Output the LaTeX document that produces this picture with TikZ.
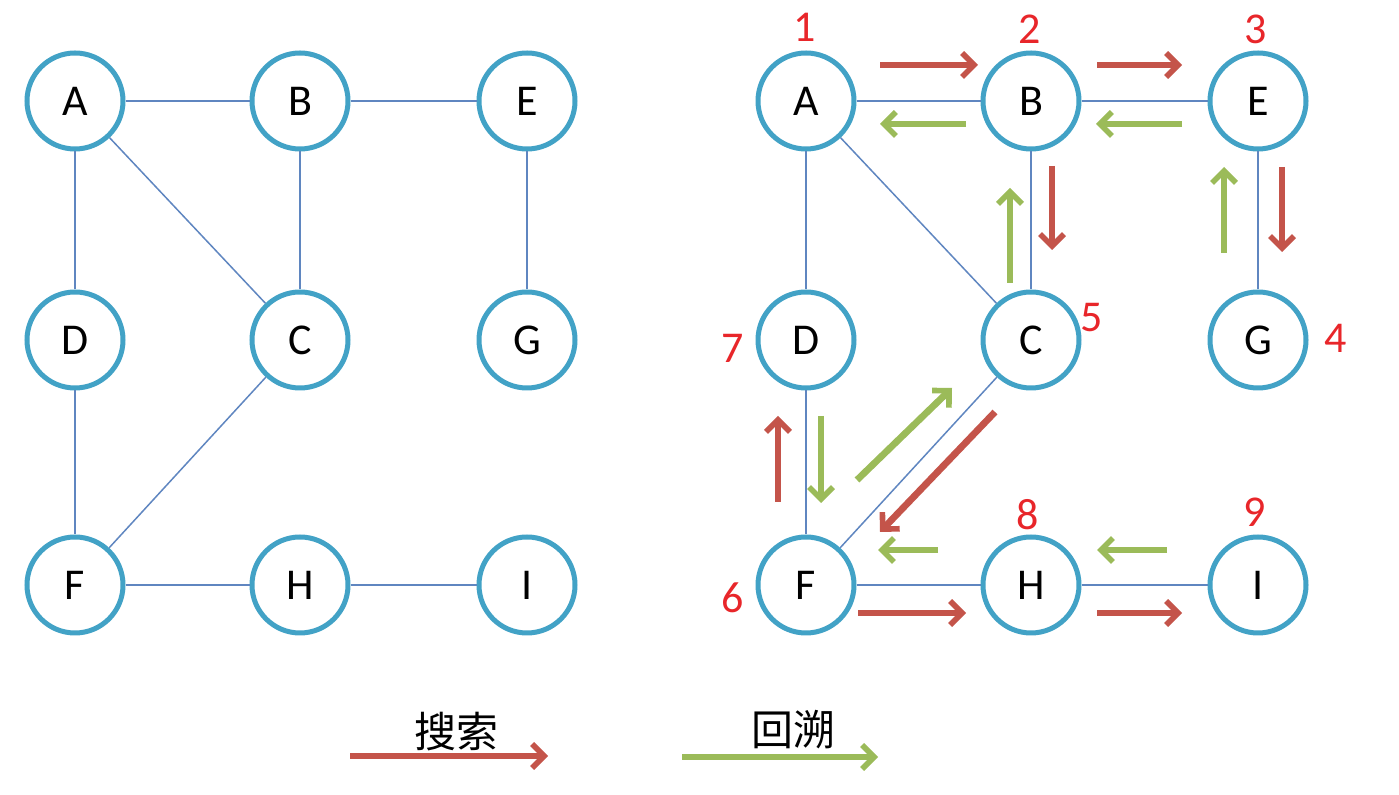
\documentclass[tikz,border=0pt]{standalone}
\usepackage{fontspec}
\setmainfont{Carlito}
\newfontfamily\cjk{Noto Sans CJK SC}
\usetikzlibrary{arrows.meta}
\definecolor{cring}{HTML}{42A2C6}
\definecolor{cedge}{HTML}{5F86C0}
\definecolor{cred}{HTML}{C4544A}
\definecolor{cgreen}{HTML}{9BBB59}
\definecolor{cnum}{HTML}{E8262A}
\tikzset{
  vtx/.style={circle,draw=cring,line width=2.5pt,minimum size=48pt,inner sep=0pt,fill=white,font=\fontsize{22}{26}\selectfont},
  edge/.style={draw=cedge,line width=0.75pt},
  num/.style={text=cnum,font=\fontsize{22}{26}\selectfont,inner sep=0pt},
  sarrow/.style={draw=cred,line width=3.4pt,-{Straight Barb[length=6pt,width=12pt,line width=2.8pt]}},
  barrow/.style={draw=cgreen,line width=3.4pt,-{Straight Barb[length=6pt,width=12pt,line width=2.8pt]}},
  legtext/.style={font=\cjk\fontsize{21}{24}\selectfont,inner sep=0pt}
}
\begin{document}
\begin{tikzpicture}[x=0.5pt,y=-0.5pt]
\useasboundingbox (0,0) rectangle (1399,795);
% left graph
\node[vtx] (lA) at (75,101) {A};
\node[vtx] (lB) at (300,101) {B};
\node[vtx] (lE) at (527,101) {E};
\node[vtx] (lD) at (75,340) {D};
\node[vtx] (lC) at (300,340) {C};
\node[vtx] (lG) at (527,340) {G};
\node[vtx] (lF) at (75,585) {F};
\node[vtx] (lH) at (300,585) {H};
\node[vtx] (lI) at (527,585) {I};
\draw[edge] (lA) -- (lB);
\draw[edge] (lB) -- (lE);
\draw[edge] (lA) -- (lD);
\draw[edge] (lA) -- (lC);
\draw[edge] (lB) -- (lC);
\draw[edge] (lE) -- (lG);
\draw[edge] (lD) -- (lF);
\draw[edge] (lC) -- (lF);
\draw[edge] (lF) -- (lH);
\draw[edge] (lH) -- (lI);
% right graph
\node[vtx] (A) at (806,101) {A};
\node[vtx] (B) at (1031,101) {B};
\node[vtx] (E) at (1258,101) {E};
\node[vtx] (D) at (806,340) {D};
\node[vtx] (C) at (1031,340) {C};
\node[vtx] (G) at (1258,340) {G};
\node[vtx] (F) at (806,585) {F};
\node[vtx] (H) at (1031,585) {H};
\node[vtx] (I) at (1258,585) {I};
\draw[edge] (A) -- (B);
\draw[edge] (B) -- (E);
\draw[edge] (A) -- (D);
\draw[edge] (A) -- (C);
\draw[edge] (B) -- (C);
\draw[edge] (E) -- (G);
\draw[edge] (D) -- (F);
\draw[edge] (C) -- (F);
\draw[edge] (F) -- (H);
\draw[edge] (H) -- (I);
% order numbers
\node[num] (n1) at (805,27) {1};
\node[num] (n2) at (1030,29) {2};
\node[num] (n3) at (1256,29) {3};
\node[num] (n4) at (1336,338) {4};
\node[num] (n5) at (1092,318) {5};
\node[num] (n6) at (733,598) {6};
\node[num] (n7) at (733,348) {7};
\node[num] (n8) at (1028,515) {8};
\node[num] (n9) at (1255,512) {9};
% traversal arrows
\coordinate (s1a) at (880,65);   \coordinate (s1b) at (978,65);
\coordinate (b1a) at (966,124);  \coordinate (b1b) at (880,124);
\coordinate (s2a) at (1097,65);  \coordinate (s2b) at (1182,65);
\coordinate (b2a) at (1182,124); \coordinate (b2b) at (1096,124);
\coordinate (s3a) at (1052,166); \coordinate (s3b) at (1052,250);
\coordinate (b3a) at (1010,283); \coordinate (b3b) at (1010,188);
\coordinate (s4a) at (1282,167); \coordinate (s4b) at (1282,252);
\coordinate (b4a) at (1224,253); \coordinate (b4b) at (1224,167);
\coordinate (s5a) at (995,412);  \coordinate (s5b) at (880,532);
\coordinate (b5a) at (857,480);  \coordinate (b5b) at (952,388);
\coordinate (s6a) at (778,502);  \coordinate (s6b) at (778,416);
\coordinate (b6a) at (821,416);  \coordinate (b6b) at (821,503);
\coordinate (s7a) at (858,613);  \coordinate (s7b) at (966,613);
\coordinate (b7a) at (938,550);  \coordinate (b7b) at (878,550);
\coordinate (s8a) at (1097,613); \coordinate (s8b) at (1182,613);
\coordinate (b8a) at (1167,550); \coordinate (b8b) at (1097,550);
\draw[sarrow] (s1a) -- (s1b);
\draw[barrow] (b1a) -- (b1b);
\draw[sarrow] (s2a) -- (s2b);
\draw[barrow] (b2a) -- (b2b);
\draw[sarrow] (s3a) -- (s3b);
\draw[barrow] (b3a) -- (b3b);
\draw[sarrow] (s4a) -- (s4b);
\draw[barrow] (b4a) -- (b4b);
\draw[sarrow] (s5a) -- (s5b);
\draw[barrow] (b5a) -- (b5b);
\draw[sarrow] (s6a) -- (s6b);
\draw[barrow] (b6a) -- (b6b);
\draw[sarrow] (s7a) -- (s7b);
\draw[barrow] (b7a) -- (b7b);
\draw[sarrow] (s8a) -- (s8b);
\draw[barrow] (b8a) -- (b8b);
% legend
\node[legtext] (t1) at (456,732) {搜索};
\node[legtext] (t2) at (793,730) {回溯};
\coordinate (l1a) at (350,756); \coordinate (l1b) at (548,756);
\coordinate (l2a) at (682,757); \coordinate (l2b) at (878,757);
\draw[sarrow] (l1a) -- (l1b);
\draw[barrow] (l2a) -- (l2b);
\end{tikzpicture}
\end{document}
